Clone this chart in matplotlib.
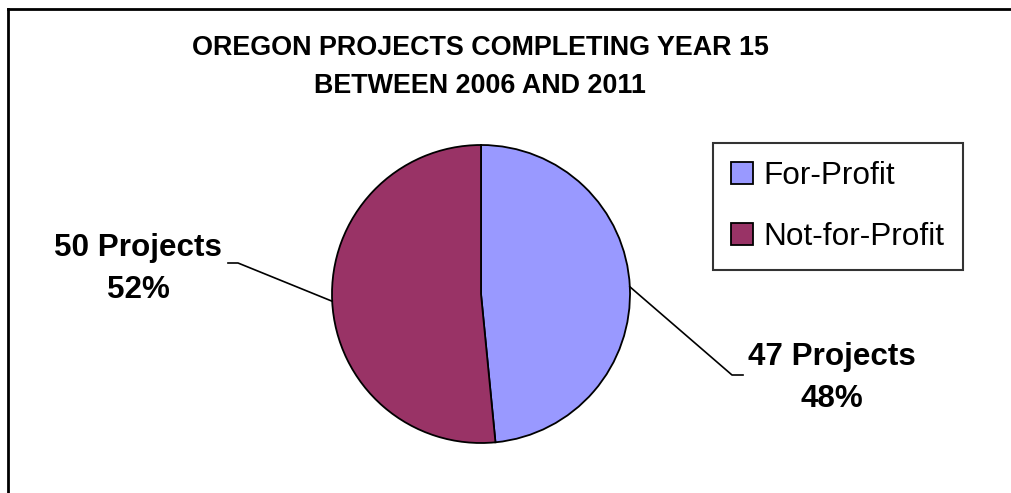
import matplotlib.pyplot as plt
import matplotlib.patches as patches
from matplotlib.lines import Line2D
import numpy as np

plt.rcParams['font.family'] = ['Liberation Sans', 'DejaVu Sans']

# data
categories = ['For-Profit', 'Not-for-Profit']
projects = [47, 50]
percents = ['48%', '52%']
colors = ['#9999FF', '#993366']
title = 'OREGON PROJECTS COMPLETING YEAR 15\nBETWEEN 2006 AND 2011'

W, H = 1012, 493
fig = plt.figure(figsize=(W / 100, H / 100), dpi=100)
ax = fig.add_axes([0, 0, 1, 1])

cx, cy, r = 481, H - 294, 149
wedges, _ = ax.pie(projects, colors=colors, startangle=90, counterclock=False,
                   center=(cx, cy), radius=r,
                   wedgeprops=dict(edgecolor='black', linewidth=1.3))
ax.set_xlim(0, W)
ax.set_ylim(0, H)
ax.set_aspect('equal')
ax.axis('off')

# labels with leader lines (edge of wedge -> elbow -> short horizontal)
label_pos = [(832, H - 378), (138, H - 269)]
elbow = [(732, H - 375), (238, H - 263)]
elbow_end = [(743, H - 375), (228, H - 263)]
for w, n, pct, tp, e1, e2 in zip(wedges, projects, percents, label_pos, elbow, elbow_end):
    mid = np.deg2rad((w.theta1 + w.theta2) / 2)
    px, py = cx + r * np.cos(mid), cy + r * np.sin(mid)
    ax.plot([px, e1[0], e2[0]], [py, e1[1], e2[1]], color='black', lw=1.2)
    ax.text(tp[0], tp[1], f'{n} Projects\n{pct}', ha='center', va='center',
            fontsize=22.6, fontweight='bold', linespacing=1.5)

ax.text(480, H - 67, title, ha='center', va='center', fontsize=19.4,
        fontweight='bold', linespacing=1.62)

# chart border, only left and top edges fall inside the picture
fig.add_artist(Line2D([8 / W, 8 / W], [0, 1 - 9 / H], color='black', lw=2,
                      transform=fig.transFigure))
fig.add_artist(Line2D([8 / W, 1.01], [1 - 9 / H, 1 - 9 / H], color='black', lw=2,
                      transform=fig.transFigure))

handles = [patches.Patch(facecolor=c, edgecolor='black', linewidth=1.3) for c in colors]
leg = fig.legend(handles, categories, loc='upper left',
                 bbox_to_anchor=(713 / W, 1 - 143 / H), fontsize=22.7,
                 frameon=True, fancybox=False, edgecolor='black',
                 handlelength=0.68, handleheight=0.68, handletextpad=0.35,
                 labelspacing=0.97, borderpad=0.58, borderaxespad=0)
leg.get_frame().set_linewidth(1.5)

fig.savefig('out.png', dpi=100, facecolor='white')
